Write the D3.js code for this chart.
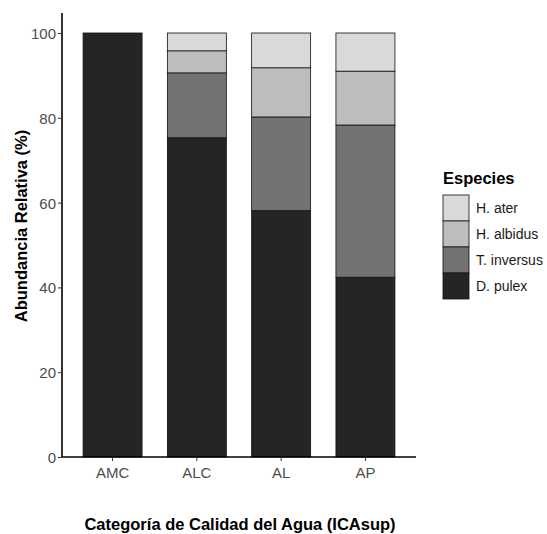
<!DOCTYPE html>
<html>
<head>
<meta charset="utf-8">
<script src="https://cdn.jsdelivr.net/npm/d3@7"></script>
<style>
  body { margin: 0; background: #fff; }
  text { font-family: "Liberation Sans", Arial, sans-serif; }
</style>
</head>
<body>
<div id="chart"></div>
<script>
var categories = ['AMC', 'ALC', 'AL', 'AP'];
var species = ['D. pulex', 'T. inversus', 'H. albidus', 'H. ater'];
var dPulex = [100, 75.3, 58.1, 42.4];
var tInversus = [0, 15.3, 22.1, 35.9];
var hAlbidus = [0, 5.2, 11.6, 12.7];
var hAter = [0, 4.2, 8.2, 9.0];
var yTicks = [0, 20, 40, 60, 80, 100];
var colors = ['#252525', '#737373', '#bdbdbd', '#d9d9d9'];

var width = 547, height = 534;
var plot = {left: 62, right: 416, top: 13, bottom: 457};

var svg = d3.select('#chart').append('svg')
  .attr('width', width)
  .attr('height', height);

var rows = categories.map(function(c, i) {
  return {cat: c, 'D. pulex': dPulex[i], 'T. inversus': tInversus[i],
    'H. albidus': hAlbidus[i], 'H. ater': hAter[i]};
});
var stacked = d3.stack().keys(species)(rows);

// bars 0.7 wide, 0.6 of a step left free at each end
var x = d3.scaleBand()
  .domain(categories)
  .range([plot.left, plot.right])
  .paddingInner(0.3)
  .paddingOuter(0.25);

var y = d3.scaleLinear().domain([0, 100]).range([plot.bottom, 33]);

var layer = svg.selectAll('.layer')
  .data(stacked)
  .enter().append('g')
  .attr('class', 'layer')
  .attr('fill', function(d, i) { return colors[i]; });

layer.selectAll('rect')
  .data(function(d) { return d.filter(function(p) { return p[1] - p[0] > 0; }); })
  .enter().append('rect')
  .attr('x', function(d) { return x(d.data.cat); })
  .attr('width', x.bandwidth())
  .attr('y', function(d) { return y(d[1]); })
  .attr('height', function(d) { return y(d[0]) - y(d[1]); })
  .attr('stroke', '#111')
  .attr('stroke-width', 0.8);

// axes
var xAxis = svg.append('g')
  .attr('transform', 'translate(0,' + plot.bottom + ')')
  .call(d3.axisBottom(x).tickSize(4).tickSizeOuter(0));
var yAxis = svg.append('g')
  .attr('transform', 'translate(' + plot.left + ',0)')
  .call(d3.axisLeft(y).tickValues(yTicks).tickSize(4).tickSizeOuter(0));

[xAxis, yAxis].forEach(function(ax) {
  ax.select('.domain').attr('stroke', '#000').attr('stroke-width', 1.6);
  ax.selectAll('.tick line').attr('stroke', '#333').attr('stroke-width', 1);
  ax.selectAll('.tick text')
    .attr('fill', '#4d4d4d')
    .style('font-size', '15px')
    .style('font-family', '"Liberation Sans", Arial, sans-serif');
});
xAxis.select('.domain').attr('d', 'M' + plot.left + ',0H' + plot.right);
yAxis.select('.domain').attr('d', 'M0,' + plot.bottom + 'V' + plot.top);
xAxis.selectAll('.tick text').attr('y', 21).attr('dy', 0);
yAxis.selectAll('.tick text').attr('x', -6).attr('dy', '0.36em');

svg.append('text')
  .attr('x', 240)
  .attr('y', 530)
  .attr('text-anchor', 'middle')
  .style('font-size', '16.5px')
  .style('font-weight', 'bold')
  .text('Categoría de Calidad del Agua (ICAsup)');

svg.append('text')
  .attr('transform', 'translate(27,226) rotate(-90)')
  .attr('text-anchor', 'middle')
  .style('font-size', '16.5px')
  .style('font-weight', 'bold')
  .text('Abundancia Relativa (%)');

// legend
var legend = svg.append('g').attr('transform', 'translate(443,0)');
legend.append('text')
  .attr('x', 0)
  .attr('y', 184)
  .style('font-size', '16.5px')
  .style('font-weight', 'bold')
  .text('Especies');

var legendOrder = species.slice().reverse();
var keys = legend.selectAll('.key')
  .data(legendOrder)
  .enter().append('g')
  .attr('class', 'key')
  .attr('transform', function(d, i) { return 'translate(0,' + (195 + i * 26) + ')'; });

keys.append('rect')
  .attr('width', 26)
  .attr('height', 26)
  .attr('fill', function(d) { return colors[species.indexOf(d)]; })
  .attr('stroke', '#111')
  .attr('stroke-width', 0.8);

keys.append('text')
  .attr('x', 33)
  .attr('y', 18)
  .attr('fill', '#1a1a1a')
  .style('font-size', '14px')
  .text(function(d) { return d; });
</script>
</body>
</html>
